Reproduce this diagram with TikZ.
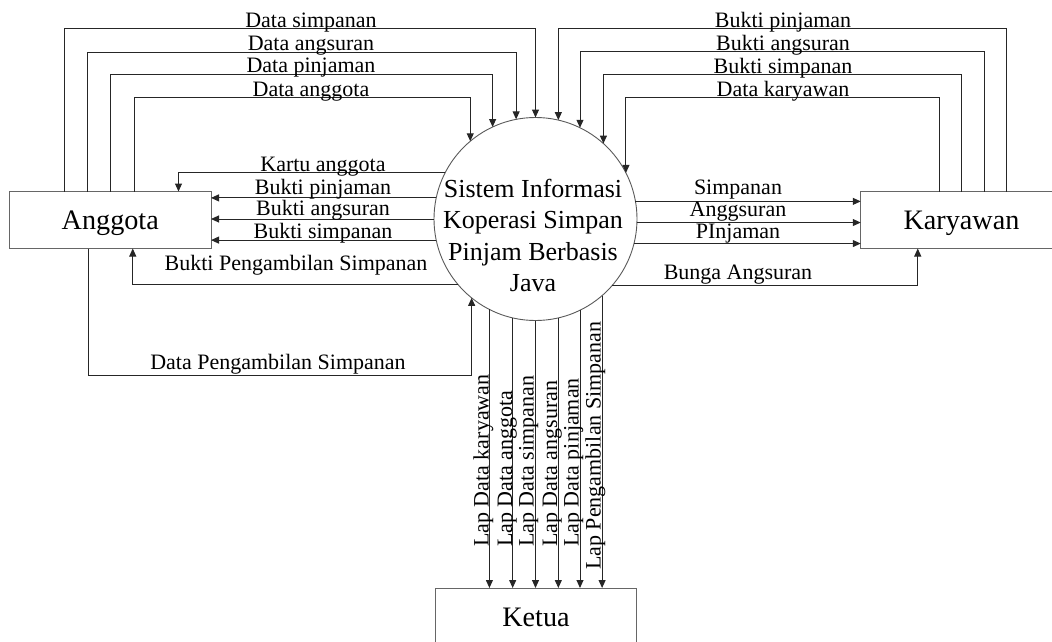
\documentclass[tikz,border=0pt]{standalone}
\usepackage{fontspec}
\setmainfont{Liberation Serif}
\usetikzlibrary{arrows.meta}
\begin{document}
\begin{tikzpicture}[x=1pt,y=-1pt,
  flow/.style={draw=black!85, line width=1pt, -{Triangle[length=8pt,width=7pt]}},
  ent/.style={draw=black!60, line width=1pt, minimum width=201.5pt, minimum height=57pt, inner sep=0pt, outer sep=0pt, font=\fontsize{28.2}{30}\selectfont, text height=19pt, text depth=0pt},
  proc/.style={circle, draw=black!65, line width=0.9pt, minimum size=203pt, inner sep=0pt, outer sep=0pt},
  proctext/.style={align=center, font=\fontsize{26}{31.5}\selectfont, inner sep=0pt},
  lbl/.style={font=\fontsize{22}{24}\selectfont, inner sep=0pt, anchor=base},
  vlbl/.style={font=\fontsize{22}{24}\selectfont, inner sep=0pt, rotate=90, anchor=base west},
]
\useasboundingbox (0,0) rectangle (1052,642);

% entities and process
\node[ent] (a) at (110.25,220) {Anggota};
\node[ent] (k) at (961.5,220) {Karyawan};
\node[ent] (t) at (536,616.5) {Ketua};
\node[proc] (c) at (535.5,219) {};
\node[proctext] (ct) at (533,235.6) {Sistem Informasi\\Koperasi Simpan\\Pinjam Berbasis\\Java};

% Anggota -> process (top)
\draw[flow] ([xshift=-46pt]a.north) -- ++(0,-162.7) -| (c.90);
\draw[flow] ([xshift=-23pt]a.north) -- ++(0,-139) -| (c.101.8);
\draw[flow] ([xshift=0pt]a.north) -- ++(0,-117) -| (c.115.2);
\draw[flow] ([xshift=23.75pt]a.north) -- ++(0,-94) -| (c.130.7);
\node[lbl] (l1) at (311,27.3) {Data simpanan};
\node[lbl] (l2) at (311,51) {Data angsuran};
\node[lbl] (l3) at (311,73) {Data pinjaman};
\node[lbl] (l4) at (311,96) {Data anggota};

% Karyawan -> process (top)
\draw[flow] ([xshift=44.5pt]k.north) -- ++(0,-162.7) -| (c.77);
\draw[flow] ([xshift=22.5pt]k.north) -- ++(0,-139.5) -| (c.64);
\draw[flow] ([xshift=0pt]k.north) -- ++(0,-116.8) -| (c.48.3);
\draw[flow] ([xshift=-22.5pt]k.north) -- ++(0,-93.8) -| (c.27.5);
\node[lbl] (r1) at (783,27.3) {Bukti pinjaman};
\node[lbl] (r2) at (783,50.5) {Bukti angsuran};
\node[lbl] (r3) at (783,73.2) {Bukti simpanan};
\node[lbl] (r4) at (783,96.2) {Data karyawan};

% process -> Anggota
\draw[flow] (c.153.05) -| ([xshift=68.25pt]a.north);
\draw[flow] (c.168.06) -- (c.168.06 -| a.east);
\draw[flow] (c.180.28) -- (c.180.28 -| a.east);
\draw[flow] (c.192.81) -- (c.192.81 -| a.east);
\draw[flow] (c.220.56) -| ([xshift=22.5pt]a.south);
\node[lbl] (m1) at (323,171) {Kartu anggota};
\node[lbl] (m2) at (323,194) {Bukti pinjaman};
\node[lbl] (m3) at (323,215.9) {Bukti angsuran};
\node[lbl] (m4) at (323,238.5) {Bukti simpanan};
\node[lbl] (m5) at (296,270) {Bukti Pengambilan Simpanan};

% Anggota -> process (bottom)
\draw[flow] ([xshift=-21.75pt]a.south) -- ++(0,127.3) -| (c.231.27);
\node[lbl] (m6) at (278,369.6) {Data Pengambilan Simpanan};

% process -> Karyawan
\draw[flow] (c.10.79) -- (c.10.79 -| k.west);
\draw[flow] (c.358.87) -- (c.358.87 -| k.west);
\draw[flow] (c.346.32) -- (c.346.32 -| k.west);
\draw[flow] (c.319.07) -| ([xshift=-43.75pt]k.south);
\node[lbl] (n1) at (738,194.1) {Simpanan};
\node[lbl] (n2) at (738,216.2) {Anggsuran};
\node[lbl] (n3) at (738,238.9) {PInjaman};
\node[lbl] (n4) at (738,279.6) {Bunga Angsuran};

% process -> Ketua
\draw[flow] (c.243.81) -- (c.243.81 |- t.north);
\draw[flow] (c.257.77) -- (c.257.77 |- t.north);
\draw[flow] (c.270.11) -- (c.270.11 |- t.north);
\draw[flow] (c.283.39) -- (c.283.39 |- t.north);
\draw[flow] (c.296.44) -- (c.296.44 |- t.north);
\draw[flow] (c.311.46) -- (c.311.46 |- t.north);
\node[vlbl] (b1) at (488.7,547) {Lap Data karyawan};
\node[vlbl] (b2) at (512,547) {Lap Data anggota};
\node[vlbl] (b3) at (533.7,547) {Lap Data simpanan};
\node[vlbl] (b4) at (557,547) {Lap Data angsuran};
\node[vlbl] (b5) at (578.7,547) {Lap Data pinjaman};
\node[vlbl] (b6) at (600.7,570) {Lap Pengambilan Simpanan};
\end{tikzpicture}
\end{document}
